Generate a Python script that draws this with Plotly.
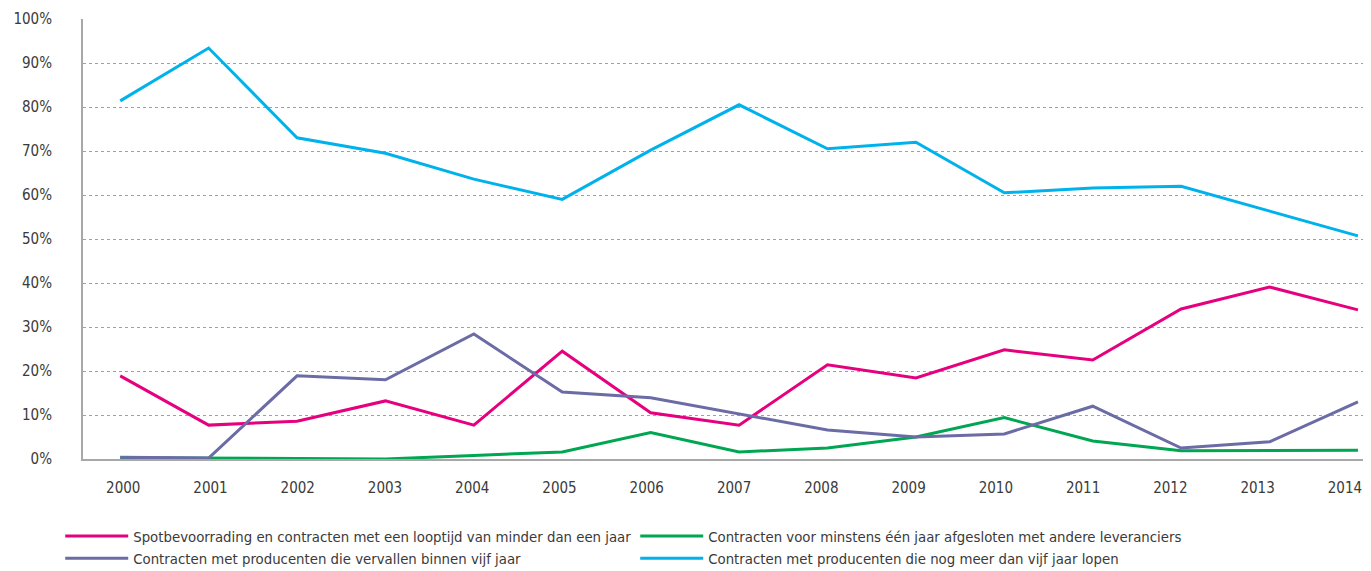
import plotly.graph_objects as go

years = list(range(2000, 2015))
series_names = [
    "Spotbevoorrading en contracten met een looptijd van minder dan een jaar",
    "Contracten voor minstens één jaar afgesloten met andere leveranciers",
    "Contracten met producenten die vervallen binnen vijf jaar",
    "Contracten met producenten die nog meer dan vijf jaar lopen",
]
spot = [18.9, 7.7, 8.6, 13.2, 7.7, 24.5, 10.5, 7.7, 21.4, 18.4, 24.8, 22.5, 34.1, 39.1, 33.9]
andere = [0.3, 0.2, 0.1, 0.0, 0.8, 1.6, 6.0, 1.6, 2.5, 5.0, 9.4, 4.1, 1.9, 2.0, 2.0]
vijf_jaar = [0.4, 0.2, 18.9, 18.0, 28.4, 15.2, 13.9, 10.2, 6.6, 5.0, 5.7, 12.0, 2.5, 3.9, 13.0]
meer_vijf = [81.4, 93.4, 73.0, 69.5, 63.6, 59.0, 70.2, 80.5, 70.5, 72.0, 60.5, 61.6, 62.0, 56.4, 50.7]
y_ticks = [0, 10, 20, 30, 40, 50, 60, 70, 80, 90, 100]
y_labels = [f"{v}%" for v in y_ticks]

colors = ["#E6007E", "#00A651", "#6B6BA6", "#00B2EB"]
data = [spot, andere, vijf_jaar, meer_vijf]

FONT = "DejaVu Sans Condensed, Liberation Sans Narrow, sans-serif"
fnt = dict(family=FONT, size=15, color="#3a3a3a")
leg_fnt = dict(family=FONT, size=14.8, color="#3a3a3a")

fig = go.Figure()
for name, vals, col in zip(series_names, data, colors):
    fig.add_trace(go.Scatter(x=years, y=vals, name=name, mode="lines",
                             line=dict(color=col, width=3)))
# invisible carrier for the category-label axis
fig.add_trace(go.Scatter(x=years, y=[None] * len(years), xaxis="x2", showlegend=False,
                         hoverinfo="skip", mode="lines"))

# page has an 8px body margin, so the figure is 8px smaller and offset
fig.update_layout(
    width=1363, height=563,
    margin=dict(l=75, r=8, t=11, b=112, autoexpand=False),
    paper_bgcolor="white", plot_bgcolor="white",
    font=fnt,
    showlegend=True,
    legend=dict(orientation="h", x=-0.0178, xanchor="left", y=-0.1386, yanchor="top",
                entrywidth=497, entrywidthmode="pixels", itemwidth=63,
                font=leg_fnt, tracegroupgap=0, itemclick=False),
    xaxis=dict(range=[1999.579, 2014.057], tickmode="array", tickvals=years,
               showticklabels=False, showgrid=False, zeroline=False,
               showline=True, linecolor="#a8a8a8", linewidth=2, automargin=False,
               ticks=""),
    xaxis2=dict(range=[1999.539, 2014.2076], overlaying="x", side="bottom",
                anchor="y", tickmode="array", tickvals=years,
                ticktext=[str(y) for y in years], showgrid=False, zeroline=False,
                showline=False, automargin=False, ticks="",
                ticklabelstandoff=18, tickfont=fnt),
)
fig.update_yaxes(range=[0, 100], tickmode="array", tickvals=y_ticks, ticktext=y_labels,
                 showgrid=True, gridcolor="#a0a0a0", griddash="dot", gridwidth=1,
                 zeroline=False, showline=True, linecolor="#a8a8a8", linewidth=2,
                 automargin=False,
                 ticks="", ticklabelstandoff=26, tickfont=fnt)

fig.write_html("out.html")
